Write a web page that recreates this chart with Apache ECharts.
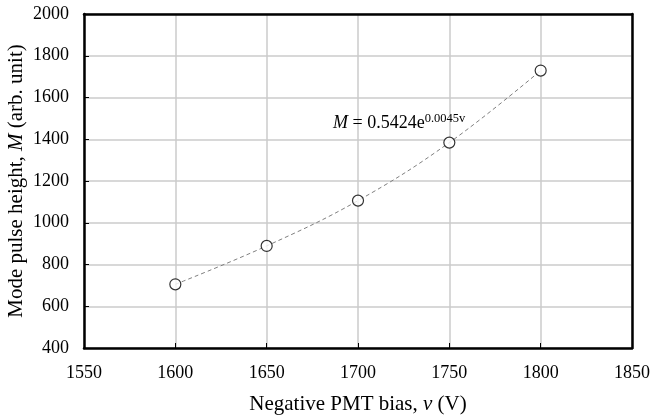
<!DOCTYPE html>
<html>
<head>
<meta charset="utf-8">
<script src="https://cdn.jsdelivr.net/npm/echarts@6/dist/echarts.min.js"></script>
<style>html,body{margin:0;padding:0;background:#fff}#c{width:651px;height:417px}</style>
</head>
<body>
<div id="c"></div>
<script>
var biasV = [1600, 1650, 1700, 1750, 1800];
var modeHeight = [705, 889, 1106, 1384, 1729];
var xTicks = [1550, 1600, 1650, 1700, 1750, 1800, 1850];
var yTicks = [400, 600, 800, 1000, 1200, 1400, 1600, 1800, 2000];

var pts = biasV.map(function (v, i) { return [v, modeHeight[i]]; });
var font = 'Liberation Serif';
var plain = function (v) { return String(v); };
var frame = {show: true, lineStyle: {color: '#000', width: 2.5}};
var chart = echarts.init(document.getElementById('c'), null, {renderer: 'canvas'});
chart.setOption({
  animation: false,
  backgroundColor: '#fff',
  grid: {left: 84, right: 19, top: 14, bottom: 69, containLabel: false, outerBoundsMode: 'none'},
  xAxis: [{
    type: 'value', min: xTicks[0], max: xTicks[xTicks.length - 1], interval: 50,
    axisLine: frame,
    axisTick: {show: true, inside: true, length: 5, lineStyle: {color: '#000', width: 1}},
    axisLabel: {color: '#000', fontFamily: font, fontSize: 18, margin: 16, formatter: plain},
    splitLine: {show: true, lineStyle: {color: '#cbcbcb', width: 1.5}},
    name: '{n|Negative PMT bias, }{i|v}{n| (V)}',
    nameLocation: 'middle', nameGap: 46, nameMoveOverlap: false,
    nameTextStyle: {rich: {n: {fontFamily: font, fontSize: 21, color: '#000'}, i: {fontFamily: font, fontSize: 21, fontStyle: 'italic', color: '#000'}}}
  }, {
    type: 'value', position: 'top', min: xTicks[0], max: xTicks[xTicks.length - 1], interval: 50,
    axisLine: frame, axisTick: {show: false}, axisLabel: {show: false}, splitLine: {show: false}
  }],
  yAxis: [{
    type: 'value', min: yTicks[0], max: yTicks[yTicks.length - 1], interval: 200,
    axisLine: frame,
    axisTick: {show: true, inside: true, length: 5, lineStyle: {color: '#000', width: 1}},
    axisLabel: {color: '#000', fontFamily: font, fontSize: 18, margin: 15, formatter: plain},
    splitLine: {show: true, lineStyle: {color: '#cbcbcb', width: 1.5}},
    name: '{n|Mode pulse height, }{i|M}{n| (arb. unit)}',
    nameLocation: 'middle', nameGap: 57, nameRotate: 90, nameMoveOverlap: false,
    nameTextStyle: {rich: {n: {fontFamily: font, fontSize: 21, color: '#000'}, i: {fontFamily: font, fontSize: 21, fontStyle: 'italic', color: '#000'}}}
  }, {
    type: 'value', position: 'right', min: yTicks[0], max: yTicks[yTicks.length - 1], interval: 200,
    axisLine: frame, axisTick: {show: false}, axisLabel: {show: false}, splitLine: {show: false}
  }],
  series: [
    {
      type: 'line', data: pts, smooth: 0.4, symbol: 'none', z: 2,
      lineStyle: {color: '#808080', width: 1, type: [4, 3]}
    },
    {
      type: 'scatter', data: pts, symbol: 'circle', symbolSize: 11, z: 3,
      itemStyle: {color: '#fff', borderColor: '#000', borderWidth: 1.2}
    }
  ],
  graphic: [{
    type: 'text', left: 333, top: 112, z: 10,
    style: {
      text: '{i|M}{n| = 0.5424e}{s|0.0045v}',
      rich: {
        i: {fontFamily: font, fontSize: 18, fontStyle: 'italic', fill: '#000'},
        n: {fontFamily: font, fontSize: 18, fill: '#000'},
        s: {fontFamily: font, fontSize: 12.5, fill: '#000', verticalAlign: 'top', padding: [0, 0, 9, 0]}
      }
    }
  }]
});
</script>
</body>
</html>
